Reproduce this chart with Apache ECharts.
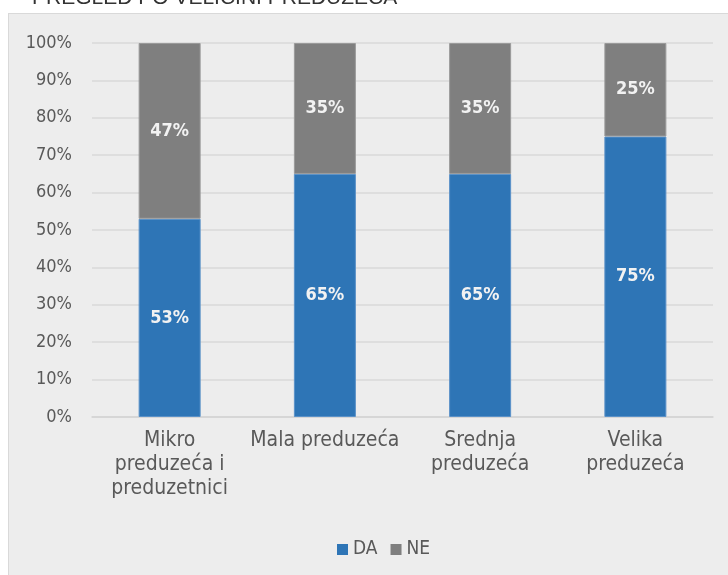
<!DOCTYPE html>
<html>
<head>
<meta charset="utf-8">
<script src="https://cdn.jsdelivr.net/npm/echarts@6/dist/echarts.min.js"></script>
<style>
    html, body { margin: 0; padding: 0; background: #ffffff; }
    .chartBack {
        position: absolute;
        left: 8px;
        top: 13px;
        width: 740px;
        height: 580px;
        background: #ededed;
        border-left: 1px solid #d9d9d9;
        border-top: 1px solid #d9d9d9;
    }
    #velicinaBar {
        position: absolute;
        left: 0;
        top: 0;
        width: 728px;
        height: 575px;
    }
</style>
</head>
<body>
<div class="chartBack"></div>
<div id="velicinaBar"></div>
<script>
    var categories = ['Mikro\npreduzeća i\npreduzetnici', 'Mala preduzeća', 'Srednja\npreduzeća', 'Velika\npreduzeća']
    var daValues = [53, 65, 65, 75]
    var neValues = [47, 35, 35, 25]
    var seriesNames = ['DA', 'NE']
    var chartTitle = 'PREGLED PO VELIČINI PREDUZEĆA'

    var fontName = "'DejaVu Sans Condensed', 'DejaVu Sans', sans-serif"

    var chart = echarts.init(document.getElementById('velicinaBar'))
    chart.setOption({
        animation: false,
        graphic: [
            {
                type: 'text',
                x: 32,
                y: -12,
                style: {
                    text: chartTitle,
                    font: "21px 'Liberation Sans', Arial, sans-serif",
                    fill: '#333333'
                }
            }
        ],
        legend: {
            data: seriesNames,
            left: 332,
            top: 535,
            icon: 'rect',
            itemWidth: 11,
            itemHeight: 11,
            itemGap: 13,
            itemStyle: {
                borderWidth: 0
            },
            textStyle: {
                color: '#595959',
                fontFamily: fontName,
                fontSize: 19
            }
        },
        grid: {
            left: 92,
            right: 15,
            top: 43,
            bottom: 158
        },
        xAxis: {
            type: 'category',
            data: categories,
            axisLine: {
                lineStyle: {
                    color: '#d4d4d4',
                    width: 1.5
                }
            },
            axisTick: {
                show: false
            },
            axisLabel: {
                color: '#595959',
                fontFamily: fontName,
                fontSize: 21,
                lineHeight: 24,
                margin: 12,
                interval: 0
            }
        },
        yAxis: {
            type: 'value',
            min: 0,
            max: 100,
            interval: 10,
            axisLine: {
                show: false
            },
            axisTick: {
                show: false
            },
            axisLabel: {
                color: '#595959',
                fontFamily: fontName,
                fontSize: 18,
                margin: 20,
                formatter: '{value}%'
            },
            splitLine: {
                lineStyle: {
                    color: '#d9d9d9',
                    width: 1.5
                }
            }
        },
        series: [
            {
                name: seriesNames[0],
                type: 'bar',
                stack: 'ukupno',
                barWidth: 62,
                itemStyle: {
                    color: '#2e75b6',
                    borderColor: '#5a91c8',
                    borderWidth: 1
                },
                label: {
                    show: true,
                    position: 'inside',
                    color: '#f2f2f2',
                    fontFamily: fontName,
                    fontSize: 18,
                    fontWeight: 'bold',
                    formatter: '{c}%'
                },
                data: daValues
            },
            {
                name: seriesNames[1],
                type: 'bar',
                stack: 'ukupno',
                barWidth: 62,
                itemStyle: {
                    color: '#7f7f7f',
                    borderColor: '#9a9a9a',
                    borderWidth: 1
                },
                label: {
                    show: true,
                    position: 'inside',
                    color: '#f2f2f2',
                    fontFamily: fontName,
                    fontSize: 18,
                    fontWeight: 'bold',
                    formatter: '{c}%'
                },
                data: neValues
            }
        ]
    })
</script>
</body>
</html>
